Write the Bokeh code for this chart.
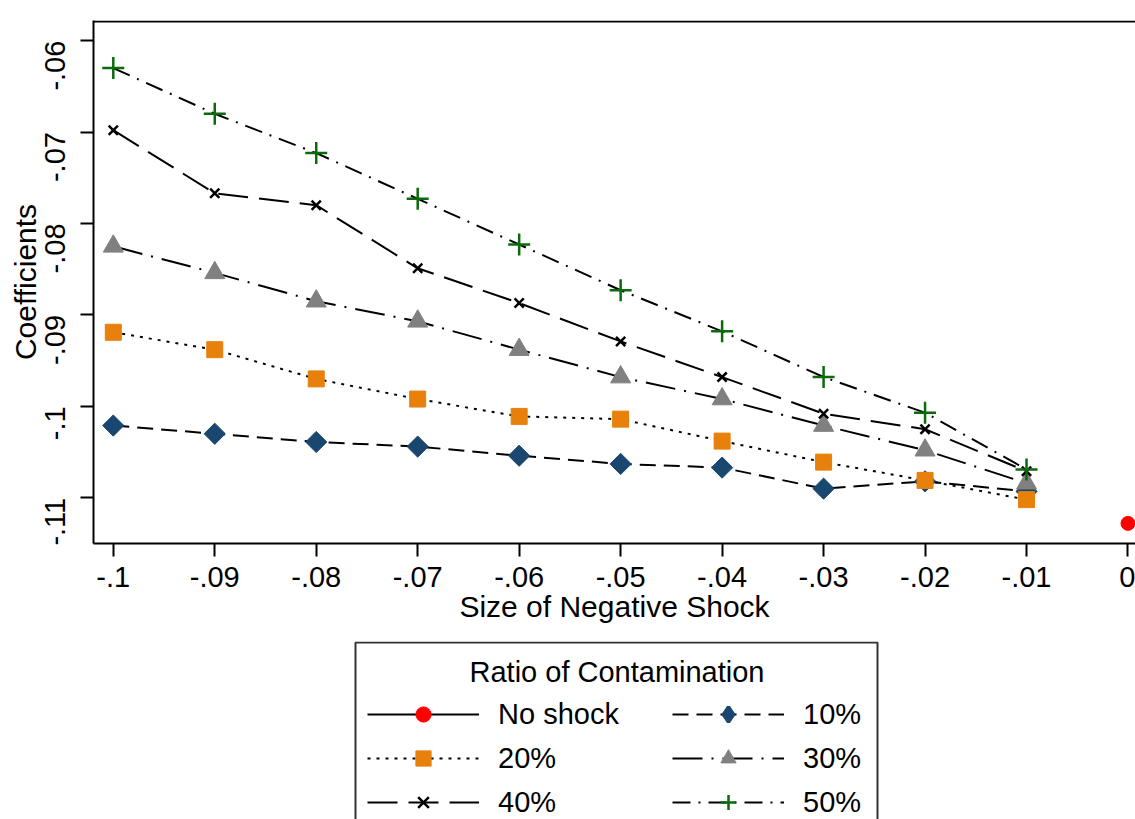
import math
from bokeh.plotting import figure
from bokeh.layouts import column
from bokeh.models import (FixedTicker, Legend, LegendItem, Label, Span, Range1d,
                          BoxAnnotation)
from bokeh.embed import file_html
from bokeh.resources import INLINE

# ---- data ----
shock = [-0.10, -0.09, -0.08, -0.07, -0.06, -0.05, -0.04, -0.03, -0.02, -0.01]
c10 = [-0.1021, -0.1030, -0.1039, -0.1044, -0.1054, -0.1063, -0.1067, -0.1090, -0.1082, -0.1093]
c20 = [-0.0919, -0.0938, -0.0970, -0.0992, -0.1011, -0.1014, -0.1038, -0.1061, -0.1081, -0.1102]
c30 = [-0.0825, -0.0854, -0.0885, -0.0907, -0.0938, -0.0968, -0.0992, -0.1021, -0.1048, -0.1084]
c40 = [-0.0698, -0.0767, -0.0780, -0.0849, -0.0887, -0.0929, -0.0968, -0.1008, -0.1025, -0.1071]
c50 = [-0.0630, -0.0680, -0.0723, -0.0773, -0.0823, -0.0873, -0.0918, -0.0968, -0.1007, -0.1069]
no_shock_x = [0.0]
no_shock_y = [-0.1128]

x_ticks = [-0.10, -0.09, -0.08, -0.07, -0.06, -0.05, -0.04, -0.03, -0.02, -0.01, 0.0]
x_tick_labels = ["-.1", "-.09", "-.08", "-.07", "-.06", "-.05", "-.04", "-.03", "-.02", "-.01", "0"]
y_ticks = [-0.11, -0.10, -0.09, -0.08, -0.07, -0.06]
y_tick_labels = ["-.11", "-.1", "-.09", "-.08", "-.07", "-.06"]

series_labels = ["No shock", "10%", "20%", "30%", "40%", "50%"]
legend_title = "Ratio of Contamination"

FONT = "Liberation Sans"
NAVY = "#1a476f"
ORANGE = "#e8800c"
GRAY = "#808080"
GREEN = "#0b6b0b"

styles = [
    dict(dash="solid", marker="circle", size=14, fill="red", line="red", lw=1, angle=0.0,
         lmarker="circle", lsize=14, llw=1),
    dict(dash="16 8", marker="square", size=15, fill=NAVY, line=NAVY, lw=1, angle=math.pi / 4,
         lmarker="diamond", lsize=21, llw=3.5),
    dict(dash="3 6", marker="square", size=16, fill=ORANGE, line=ORANGE, lw=1, angle=0.0,
         lmarker="square", lsize=16, llw=1),
    dict(dash="30 9 2 9", marker="triangle", size=20, fill=GRAY, line=GRAY, lw=1, angle=0.0,
         lmarker="triangle", lsize=20, llw=1),
    dict(dash="30 11", marker="x", size=13, fill=None, line="black", lw=2.5, angle=0.0,
         lmarker="x", lsize=13, llw=2.5),
    dict(dash="18 8 2 8", marker="cross", size=22, fill=None, line=GREEN, lw=2.5, angle=0.0,
         lmarker="cross", lsize=22, llw=2.5),
]
xs = [no_shock_x, shock, shock, shock, shock, shock]
ys = [no_shock_y, c10, c20, c30, c40, c50]

# ---- main plot ----
p = figure(width=1135, height=641,
           x_range=Range1d(-0.10195, 0.00074), y_range=Range1d(-0.1150, -0.0578),
           output_backend="svg", toolbar_location=None,
           min_border_left=93, min_border_top=20, min_border_bottom=98, min_border_right=0)
p.outline_line_color = None
p.grid.visible = False
p.add_layout(Span(location=-0.05791, dimension="width", line_color="black", line_width=2))

p.xaxis.ticker = FixedTicker(ticks=x_ticks)
p.xaxis.major_label_overrides = dict(zip(x_ticks, x_tick_labels))
p.yaxis.ticker = FixedTicker(ticks=y_ticks)
p.yaxis.major_label_overrides = dict(zip(y_ticks, y_tick_labels))
p.yaxis.major_label_orientation = math.pi / 2
p.xaxis.axis_label = "Size of Negative Shock"
p.yaxis.axis_label = "Coefficients"
for ax in (p.xaxis, p.yaxis):
    ax.axis_line_width = 2
    ax.axis_line_color = "black"
    ax.major_tick_line_width = 2
    ax.major_tick_line_color = "black"
    ax.major_tick_in = 0
    ax.major_tick_out = 13
    ax.minor_tick_line_color = None
    ax.major_label_text_font = FONT
    ax.major_label_text_font_size = "29px"
    ax.major_label_text_color = "black"
    ax.axis_label_text_font = FONT
    ax.axis_label_text_font_size = "30px"
    ax.axis_label_text_font_style = "normal"
    ax.axis_label_text_color = "black"
p.xaxis.major_label_standoff = 10
p.xaxis.axis_label_standoff = 0
p.yaxis.major_label_standoff = 25
p.yaxis.axis_label_standoff = -9

for st, xv, yv in zip(styles, xs, ys):
    p.line(xv, yv, line_color="black", line_width=2, line_dash=st["dash"])
    p.scatter(xv, yv, marker=st["marker"], size=st["size"], angle=st["angle"],
              fill_color=st["fill"], line_color=st["line"], line_width=st["lw"])

# ---- legend panel (its frame is aligned with the main frame: 93..1135 px) ----
q = figure(width=1135, height=178, x_range=Range1d(93, 1135), y_range=Range1d(0, 178),
           output_backend="svg", toolbar_location=None,
           x_axis_location=None, y_axis_location=None, min_border=0)
q.outline_line_color = None
q.grid.visible = False

q.add_layout(BoxAnnotation(left=355, right=877, bottom=-20, top=177,
                           fill_color="white", fill_alpha=1.0,
                           line_color="#333333", line_alpha=1.0, line_width=2))

items = {}
for st, lab, xv, yv in zip(styles, series_labels, xs, ys):
    # legend-only renderers: data lie far outside this panel's ranges
    lr = q.line(xv, yv, line_color="black", line_width=2, line_dash=st["dash"])
    sr = q.scatter(xv, yv, marker=st["lmarker"], size=st["lsize"],
                   fill_color=st["fill"], line_color=st["line"], line_width=st["llw"])
    items[lab] = LegendItem(label=lab, renderers=[lr, sr])

order = ["No shock", "20%", "40%", "10%", "30%", "50%"]
legend = Legend(items=[items[k] for k in order], ncols=2, location=(274, -2),
                label_text_font=FONT, label_text_font_size="29px", label_text_color="black",
                glyph_width=112, glyph_height=38, label_height=38, label_width=168,
                label_standoff=19, spacing=6, padding=13, margin=0,
                border_line_color=None, background_fill_alpha=0.0)
q.add_layout(legend, "center")

q.add_layout(Label(x=616.5, y=148, text=legend_title,
                   text_align="center", text_baseline="middle",
                   text_font=FONT, text_font_size="29px", text_color="black"))

layout = column(p, q, spacing=0)
open("out.html", "w").write(file_html(layout, INLINE))
